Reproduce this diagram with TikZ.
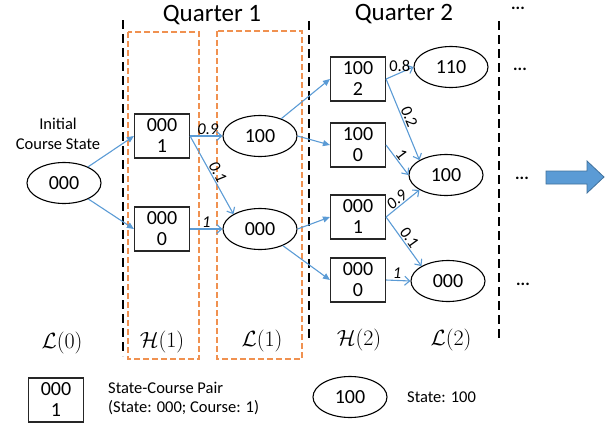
\documentclass[tikz,border=0pt]{standalone}
\usepackage{fix-cm}
\usepackage[no-math]{fontspec}
\setmainfont{Carlito}
\usetikzlibrary{arrows.meta,shapes.geometric}
\definecolor{eblue}{RGB}{91,155,213}
\definecolor{dblue}{RGB}{65,113,156}
\definecolor{orng}{RGB}{237,125,49}
\tikzset{
 ell/.style={ellipse, draw, line width=1.1pt, minimum width=74pt, minimum height=41pt, inner sep=0pt, font=\fontsize{20}{22}\selectfont},
 pairbox/.style={rectangle, draw=black!85, line width=1.1pt, minimum width=55pt, minimum height=44pt, inner sep=0pt, align=center, font=\fontsize{20}{21}\selectfont},
 fwd/.style={draw=eblue, line width=1.1pt, -{Triangle[length=7pt,width=6pt]}},
 prob/.style={draw=eblue, line width=1.1pt, -{Straight Barb[length=5pt,width=9pt]}},
 plab/.style={font=\fontsize{16.5}{16.5}\selectfont\itshape, inner sep=1pt},
 plabu/.style={font=\fontsize{16.5}{16.5}\selectfont, inner sep=1pt},
 sep/.style={black, line width=2.6pt, dash pattern=on 9pt off 5pt},
 grp/.style={orng!85, line width=1.1pt, dash pattern=on 6pt off 3pt},
 mlab/.style={font=\fontsize{22}{22}\selectfont, inner sep=0pt},
 ttl/.style={font=\fontsize{25}{25}\selectfont, inner sep=0pt},
 note/.style={font=\fontsize{16.5}{20}\selectfont, inner sep=0pt, align=left},
 dots/.style={font=\fontsize{17}{17}\selectfont\bfseries, inner sep=0pt, text height=3pt, text depth=0pt},
}
\begin{document}
\begin{tikzpicture}[x=1pt,y=-1pt]
\useasboundingbox (0,0) rectangle (610,426);
% separators
\draw[sep] (123,20) -- (123,356);
\draw[sep] (309,21) -- (309,342);
\draw[sep] (499,21) -- (499,342);
% groups
\draw[grp] (128,32) rectangle (199,359);
\draw[grp] (217,31) rectangle (302,359);
% titles
\node[ttl] (q1) at (212,15) {Quarter 1};
\node[ttl] (q2) at (404,14) {Quarter 2};
\node[dots, anchor=base] (d0) at (518,9) {...};
% initial
\node[note, align=center] (init) at (58,134) {Initial\\Course State};
\node[ell] (s0) at (64,183) {000};
% H(1)
\node[pairbox] (b1) at (162,136) {000\\1};
\node[pairbox] (b0) at (162,229) {000\\0};
% L(1)
\node[ell] (l1a) at (260,136) {100};
\node[ell] (l1b) at (260,229) {000};
% H(2)
\node[pairbox] (h2a) at (358,79) {100\\2};
\node[pairbox] (h2b) at (358,145) {100\\0};
\node[pairbox] (h2c) at (358,217) {000\\1};
\node[pairbox] (h2d) at (358,280) {000\\0};
% L(2)
\node[ell] (l2t) at (451,67) {110};
\node[ell] (l2a) at (446,175) {100};
\node[ell] (l2c) at (448,281) {000};
% dots
\node[dots, anchor=base] (d1) at (520,70) {...};
\node[dots, anchor=base] (d2) at (522,179) {...};
\node[dots, anchor=base] (d3) at (523,285) {...};
% big arrow
\filldraw[fill=eblue, draw=dblue, line width=0.8pt] (546,171) -- (587,171) -- (587,161) -- (604,177) -- (587,193) -- (587,184) -- (546,184) -- cycle;
% edges
\draw[fwd] (s0) -- (b1.west);
\draw[fwd] (s0) -- (b0.west);
\draw[prob] (b1.east) -- node[plab, pos=0.55, above] {0.9} (l1a.west);
\draw[prob] (b1.east) -- node[plab, sloped, pos=0.5, above] {0.1} (l1b.north west);
\draw[prob] (b0.east) -- node[plab, pos=0.5, above] {1} (l1b.west);
\draw[fwd] (l1a) -- (h2a.west);
\draw[fwd] (l1a.east) -- (h2b.west);
\draw[fwd] (l1b.east) -- (h2c.west);
\draw[fwd] (l1b) -- (h2d.west);
\draw[prob] (h2a.east) -- node[plabu, pos=0.5, above] {0.8} (l2t.west);
\draw[prob] (h2a.east) -- node[plabu, sloped, pos=0.5, above] {0.2} (l2a.north west);
\draw[prob] (h2b.east) -- node[plabu, sloped, pos=0.45, above] {1} (l2a.west);
\draw[prob] (h2c.east) -- node[plab, sloped, pos=0.45, above] {0.9} (l2a.south west);
\draw[prob] (h2c.east) -- node[plabu, sloped, pos=0.5, above] {0.1} (l2c.north west);
\draw[prob] (h2d.east) -- node[plab, pos=0.45, above] {1} (l2c.west);
% bottom labels
\node[mlab] (m0) at (62,343) {$\mathcal{L}(0)$};
\node[mlab] (m1) at (162,342) {$\mathcal{H}(1)$};
\node[mlab] (m2) at (262,341) {$\mathcal{L}(1)$};
\node[mlab] (m3) at (359,340) {$\mathcal{H}(2)$};
\node[mlab] (m4) at (451,340) {$\mathcal{L}(2)$};
% legend
\node[pairbox] (lgb) at (56,400) {000\\1};
\node[note, anchor=west] (lgt1) at (108,388) {State-Course Pair};
\node[note, anchor=west] (lgt2) at (108,408) {(State: 000; Course: 1)};
\node[ell] (lge) at (350,397) {100};
\node[note, anchor=west] (lgt3) at (407,397) {State: 100};
\end{tikzpicture}
\end{document}
